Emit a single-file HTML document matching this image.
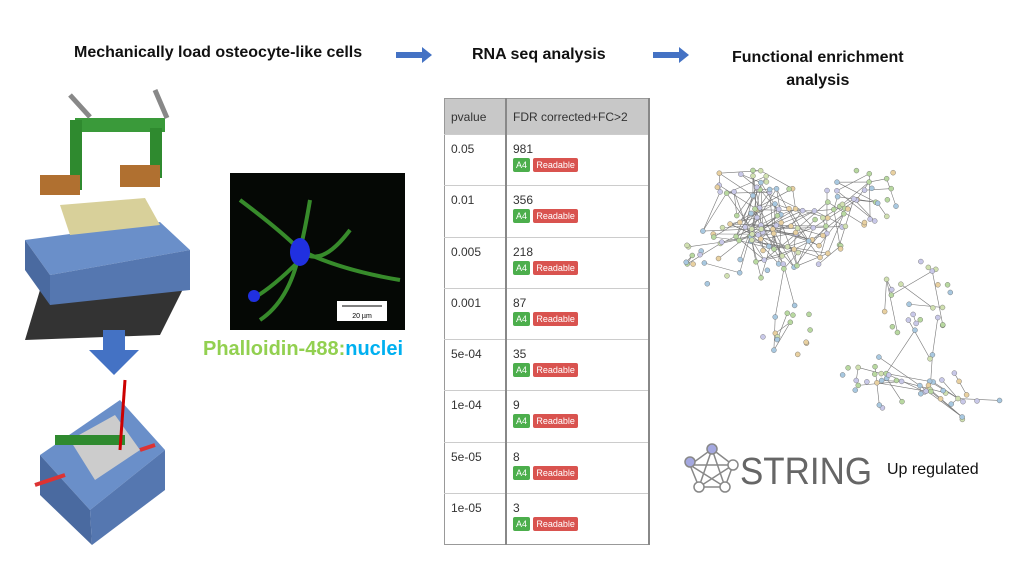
<!DOCTYPE html>
<html><head><style>
body{margin:0;width:1024px;height:576px;background:#fff;position:relative;overflow:hidden;font-family:"Liberation Sans",sans-serif}
.t{position:absolute;font-weight:bold;font-size:16px;color:#111;text-align:center}
table{position:absolute;left:444px;top:98px;width:206px;border-collapse:collapse;font-size:12px;color:#333;border:1px solid #999}
th{background:#c8c8c8;height:33px;text-align:left;font-weight:normal;padding-left:6px;border-right:2px solid #888}
td{height:51.3px;vertical-align:top;padding:7px 0 0 6px;border-top:1px solid #ccc;border-right:2px solid #888;box-sizing:border-box}
.b{display:inline-block;font-size:9px;color:#fff;padding:2px 3px;border-radius:2px;margin-top:2px}
.g{background:#4cae4c}.r{background:#d9534f}
</style></head><body>
<div class="t" style="left:74px;top:44px">Mechanically load osteocyte-like cells</div>
<div class="t" style="left:472px;top:46px">RNA seq analysis</div>
<div class="t" style="left:732px;top:46px;line-height:23px">Functional enrichment<br>analysis</div>
<svg style="position:absolute;left:0;top:0" width="1024" height="576">
<path d="M396 52h26v-5l10 8-10 8v-5h-26z" fill="#4472c4"/>
<path d="M653 52h26v-5l10 8-10 8v-5h-26z" fill="#4472c4"/>
<polygon points="40,290 185,285 160,335 25,340" fill="#333"/>
<polygon points="25,240 160,222 190,250 50,275" fill="#6a8fc9"/>
<polygon points="50,275 190,250 190,290 50,305" fill="#5577b0"/>
<polygon points="25,240 50,275 50,305 25,270" fill="#4a6aa0"/>
<polygon points="60,205 145,198 160,225 70,235" fill="#d8d09a"/>
<rect x="75" y="118" width="90" height="14" fill="#3a9a3a"/>
<rect x="70" y="120" width="12" height="70" fill="#2f8a2f"/>
<rect x="150" y="128" width="12" height="50" fill="#2f8a2f"/>
<rect x="40" y="175" width="40" height="20" fill="#b07030"/>
<rect x="120" y="165" width="40" height="22" fill="#b07030"/>
<path d="M70 95l20 22M155 90l12 28" stroke="#888" stroke-width="5"/>
<path d="M103 330v20h-14l25 25 25-25h-14v-20z" fill="#4472c4"/>
<polygon points="40,455 120,400 165,450 90,510" fill="#6a8fc9"/>
<polygon points="40,455 90,510 92,545 40,495" fill="#4a6aa0"/>
<polygon points="90,510 165,450 165,490 92,545" fill="#5577b0"/>
<polygon points="70,440 115,415 140,450 95,480" fill="#ccc"/>
<rect x="55" y="435" width="70" height="10" fill="#2f8a2f"/>
<path d="M125 380l-5 70" stroke="#c00" stroke-width="3"/>
<path d="M35 485l30-10M140 450l15-5" stroke="#d33" stroke-width="4"/>
<rect x="230" y="173" width="175" height="157" fill="#050805"/>
<path d="M240 200 Q280 230 300 250 T350 230 M300 250 Q290 300 260 320 M300 250 Q340 270 400 280 M310 200 Q305 230 300 250 M250 300 Q270 290 300 260" stroke="#3d9a30" stroke-width="4" fill="none" opacity=".9"/>
<ellipse cx="300" cy="252" rx="10" ry="14" fill="#2030e0"/>
<ellipse cx="254" cy="296" rx="6" ry="6" fill="#2030e0"/>
<rect x="337" y="301" width="50" height="20" fill="#fff"/>
<path d="M342 306h40" stroke="#000"/>
<text x="362" y="318" font-size="7" text-anchor="middle" font-family="Liberation Sans">20 µm</text>
<g stroke="#888" stroke-width="1.5" fill="#fff">
<path d="M712 449L733 465 725 487 699 487 690 465Z M712 449L725 487 690 465 733 465 699 487 712 449" fill="none"/>
<circle cx="712" cy="449" r="5" fill="#a4a8e0"/><circle cx="690" cy="462" r="5" fill="#a4a8e0"/>
<circle cx="733" cy="465" r="5"/><circle cx="725" cy="487" r="5"/><circle cx="699" cy="487" r="5"/>
</g>
<text x="740" y="484" font-size="38" fill="#666" font-family="Liberation Sans" textLength="132" lengthAdjust="spacingAndGlyphs">STRING</text>
<text x="887" y="474" font-size="16" fill="#111" font-family="Liberation Sans">Up regulated</text>
<g id="net"></g>
</svg>
<div style="position:absolute;left:203px;top:338px;font-size:20px;font-weight:bold;color:#92d050">Phalloidin-488:<span style="color:#00b0f0">nuclei</span></div>
<table>
<tr><th style="width:53px">pvalue</th><th>FDR corrected+FC&gt;2</th></tr>
<tr><td>0.05</td><td>981<br><span class="b g">A4</span> <span class="b r">Readable</span></td></tr>
<tr><td>0.01</td><td>356<br><span class="b g">A4</span> <span class="b r">Readable</span></td></tr>
<tr><td>0.005</td><td>218<br><span class="b g">A4</span> <span class="b r">Readable</span></td></tr>
<tr><td>0.001</td><td>87<br><span class="b g">A4</span> <span class="b r">Readable</span></td></tr>
<tr><td>5e-04</td><td>35<br><span class="b g">A4</span> <span class="b r">Readable</span></td></tr>
<tr><td>1e-04</td><td>9<br><span class="b g">A4</span> <span class="b r">Readable</span></td></tr>
<tr><td>5e-05</td><td>8<br><span class="b g">A4</span> <span class="b r">Readable</span></td></tr>
<tr><td>1e-05</td><td>3<br><span class="b g">A4</span> <span class="b r">Readable</span></td></tr>
</table>
<script>
var s=7,R=function(){s=(s*9301+49297)%233280;return s/233280};
var g=document.getElementById('net'),h='',P=[];
var cl=[[790,225,60,45,70],[730,255,45,35,30],[860,195,45,35,30],[920,300,40,40,25],[900,380,60,30,35],[790,330,30,30,15],[740,180,30,20,15],[960,400,40,20,12]];
cl.forEach(function(c){for(var i=0;i<c[4];i++){var a=R()*6.28,r=Math.sqrt(R());P.push([c[0]+Math.cos(a)*r*c[2],c[1]+Math.sin(a)*r*c[3]])}});
for(var i=0;i<P.length;i++)for(var k=0;k<5;k++){var j=Math.floor(R()*P.length),d=Math.hypot(P[i][0]-P[j][0],P[i][1]-P[j][1]);if(d<55)h+='<line x1="'+P[i][0]+'" y1="'+P[i][1]+'" x2="'+P[j][0]+'" y2="'+P[j][1]+'" stroke="#777" stroke-width=".6"/>'}
var cols=['#b8d8a0','#c8c8e8','#e8d0a0','#a8c8e0','#d0e0b0'];
P.forEach(function(p){h+='<circle cx="'+p[0]+'" cy="'+p[1]+'" r="2.5" fill="'+cols[Math.floor(R()*5)]+'" stroke="#666" stroke-width=".4"/>'});
g.innerHTML=h;
</script>
</body></html>
